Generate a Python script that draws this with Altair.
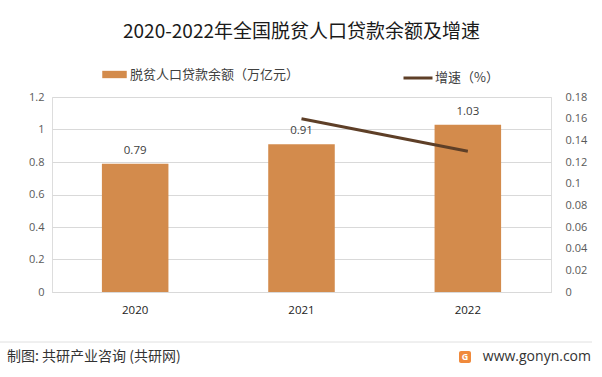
import altair as alt
import pandas as pd

years = ["2020", "2021", "2022"]
balance = [0.79, 0.91, 1.03]
growth_years = ["2021", "2022"]
growth = [0.16, 0.13]

bar_name = "脱贫人口贷款余额（万亿元）"
line_name = "增速（%）"
title_text = "2020-2022年全国脱贫人口贷款余额及增速"
source_text = "制图: 共研产业咨询 (共研网)"
site_text = "www.gonyn.com"

df_bar = pd.DataFrame({"year": years, "balance": balance})
df_line = pd.DataFrame({"year": growth_years, "growth": growth})

FONT = "Noto Sans CJK SC"
NUMFONT = "Open Sans"

xscale = alt.Scale(domain=years, paddingInner=0.6, paddingOuter=0.3)
xaxis = alt.Axis(title=None, labelFont=NUMFONT, labelFontSize=11.5, labelColor="#222222", labelAngle=0,
                 ticks=False, domainColor="#d9d9d9", labelPadding=12)
yscale_left = alt.Scale(domain=[0, 1.2])
left_axis = alt.Axis(title=None, values=[0, 0.2, 0.4, 0.6, 0.8, 1.0, 1.2], format="~g",
                     labelFont=NUMFONT, labelFontSize=11, labelColor="#595959", labelOverlap=False,
                     ticks=False, domain=False, gridColor="#d9d9d9", labelPadding=8)

bars = alt.Chart(df_bar).mark_bar(color="#D38B4C").encode(
    x=alt.X("year:N", scale=xscale, axis=xaxis),
    y=alt.Y("balance:Q", scale=yscale_left, axis=left_axis),
    fill=alt.Fill("series:N", scale=alt.Scale(domain=[bar_name], range=["#D38B4C"]),
                  legend=alt.Legend(title=None, orient="none", legendX=50, legendY=-35,
                                    symbolType="M-1,-0.3L1,-0.3L1,0.3L-1,0.3Z", symbolSize=600,
                                    symbolStrokeWidth=0, labelLimit=400,
                                    labelFont=FONT, labelFontSize=13, labelColor="#404040",
                                    labelOffset=3)),
).transform_calculate(series="'" + bar_name + "'")

bar_labels = alt.Chart(df_bar).mark_text(dy=-13, font=NUMFONT, fontSize=11.5, color="#404040").encode(
    x=alt.X("year:N", scale=xscale, axis=xaxis),
    y=alt.Y("balance:Q", scale=yscale_left, axis=left_axis),
    text=alt.Text("balance:Q", format=".2f"),
)

anno = pd.DataFrame({"k": [0]})
footer_rule = alt.Chart(anno).mark_rule(color="#e0e0e0", strokeWidth=1).encode(
    x=alt.value(-52), x2=alt.value(540), y=alt.value(245))
footer_left = alt.Chart(anno).mark_text(align="left", baseline="middle", font=FONT, fontSize=14,
                                         color="#333333").encode(
    x=alt.value(-45), y=alt.value(260), text=alt.value(source_text))
footer_right = alt.Chart(anno).mark_text(align="right", baseline="middle", font=NUMFONT, fontSize=14,
                                          color="#333333").encode(
    x=alt.value(539), y=alt.value(260), text=alt.value(site_text))
icon = alt.Chart(anno).mark_rect(color="#F08A3C", cornerRadius=2).encode(
    x=alt.value(407), x2=alt.value(419), y=alt.value(254), y2=alt.value(266))
icon_g = alt.Chart(anno).mark_text(align="center", baseline="middle", font=NUMFONT, fontSize=9,
                                    fontWeight="bold", color="white").encode(
    x=alt.value(413), y=alt.value(260), text=alt.value("G"))

left = alt.layer(bars, bar_labels, footer_rule, footer_left, footer_right, icon, icon_g)

line = alt.Chart(df_line).mark_line(strokeWidth=3).encode(
    x=alt.X("year:N", scale=xscale, axis=xaxis),
    y=alt.Y("growth:Q", scale=alt.Scale(domain=[0, 0.18]),
            axis=alt.Axis(title=None, orient="right", values=[0, 0.02, 0.04, 0.06, 0.08, 0.1, 0.12, 0.14, 0.16, 0.18],
                          format="~g", labelFont=NUMFONT, labelFontSize=11, labelColor="#595959",
                          labelOverlap=False,
                          ticks=False, domain=False, grid=False, labelPadding=14)),
    stroke=alt.Stroke("series:N", scale=alt.Scale(domain=[line_name], range=["#5E3F27"]),
                      legend=alt.Legend(title=None, orient="none", legendX=350, legendY=-35,
                                        symbolType="stroke", symbolSize=841, symbolStrokeWidth=3,
                                        labelLimit=400,
                                        labelFont=FONT, labelFontSize=13, labelColor="#404040",
                                        labelOffset=1)),
).transform_calculate(series="'" + line_name + "'")

chart = alt.layer(left, line).resolve_scale(
    y="independent"
).properties(
    width=499, height=195,
    title=alt.TitleParams(title_text, font=FONT, fontSize=19, fontWeight="normal", color="#1a1a1a",
                          anchor="middle", offset=20),
    padding={"left": 52, "top": 97, "right": 51, "bottom": 85},
    autosize=alt.AutoSizeParams(type="none"),
).configure_view(stroke=None).configure(background="white")

chart.save("out.html", embed_options={"renderer": "svg", "actions": False})
